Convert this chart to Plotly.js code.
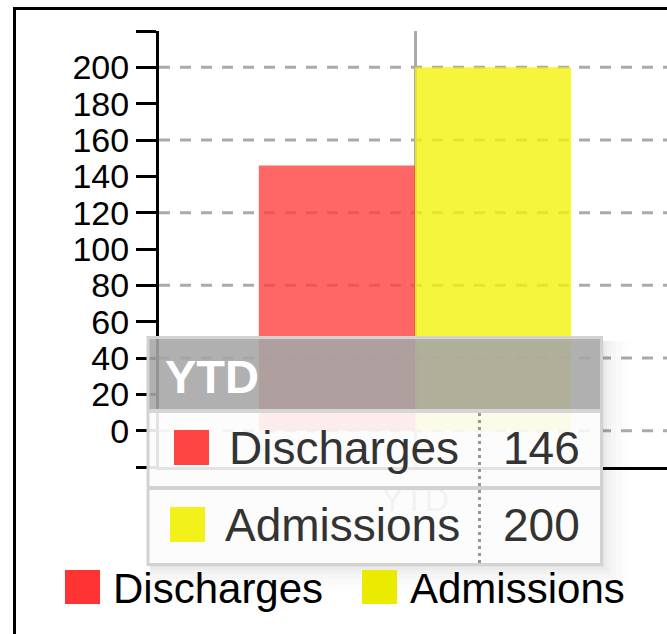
<!DOCTYPE html>
<html>
<head>
<meta charset="utf-8">
<script src="https://cdn.plot.ly/plotly-3.0.1.min.js"></script>
<style>
  html, body { margin: 0; padding: 0; background: #fff; overflow: hidden; }
  #chart { width: 667px; height: 634px; }
</style>
</head>
<body>
<div id="chart"></div>
<script>
// ---- data ----
const categories = ['YTD'];
const seriesNames = ['Discharges', 'Admissions'];
const discharges = [146];
const admissions = [200];
const yTickValues = [-20, 0, 20, 40, 60, 80, 100, 120, 140, 160, 180, 200, 220];
const yTickLabels = ['', '0', '20', '40', '60', '80', '100', '120', '140', '160', '180', '200', ''];
const gridValues = [0, 40, 80, 120, 160, 200];

// ---- styles ----
const FONT = 'Liberation Sans, Arial, sans-serif';
const barColors = ['rgb(255,64,64)', 'rgb(242,242,11)'];
const legendColors = ['rgb(255,51,51)', 'rgb(235,235,0)'];
const tipColors = ['rgb(255,68,68)', 'rgb(242,242,26)'];

const W = 667, H = 634;
const M = { l: 159, r: 0, t: 31, b: 167 };
const PW = W - M.l - M.r, PH = H - M.t - M.b;
const X = px => (px - M.l) / PW;
const Y = py => 1 - (py - M.t) / PH;

const traces = [
  { type: 'bar', name: seriesNames[0], x: categories, y: discharges,
    marker: { color: barColors[0], line: { width: 0 } }, opacity: 0.8, hoverinfo: 'none' },
  { type: 'bar', name: seriesNames[1], x: categories, y: admissions,
    marker: { color: barColors[1], line: { width: 0 } }, opacity: 0.8, hoverinfo: 'none' }
];

const shapes = [];
// dashed horizontal grid
gridValues.forEach(v => shapes.push({
  type: 'line', xref: 'paper', yref: 'y', x0: 0, x1: 1, y0: v, y1: v,
  line: { color: '#aaaaaa', width: 3, dash: '11px,10px' }, layer: 'below'
}));
// outer frame (top + left)
shapes.push({ type: 'line', xref: 'paper', yref: 'paper', x0: X(14.5), x1: X(700), y0: Y(8.5), y1: Y(8.5),
  line: { color: '#000', width: 3 }, layer: 'above' });
shapes.push({ type: 'line', xref: 'paper', yref: 'paper', x0: X(14.5), x1: X(14.5), y0: Y(7), y1: Y(700),
  line: { color: '#000', width: 3 }, layer: 'above' });

// tooltip shadow (soft)
[[2, 0.035], [5, 0.025], [9, 0.02], [14, 0.015], [20, 0.01], [27, 0.008]].forEach(([d, a]) => shapes.push({
  type: 'rect', xref: 'paper', yref: 'paper',
  x0: X(150), x1: X(602 + d), y0: Y(341), y1: Y(565 + d),
  fillcolor: 'rgba(0,0,0,' + a + ')', line: { width: 0 }, layer: 'above'
}));
// tooltip header
shapes.push({ type: 'rect', xref: 'paper', yref: 'paper', x0: X(149), x1: X(600), y0: Y(339), y1: Y(409),
  fillcolor: 'rgba(168,168,168,0.88)', line: { width: 0 }, layer: 'above' });
// tooltip body
shapes.push({ type: 'rect', xref: 'paper', yref: 'paper', x0: X(149), x1: X(600), y0: Y(409), y1: Y(563),
  fillcolor: 'rgba(255,255,255,0.89)', line: { width: 0 }, layer: 'above' });
// separators
shapes.push({ type: 'line', xref: 'paper', yref: 'paper', x0: X(149), x1: X(600), y0: Y(411), y1: Y(411),
  line: { color: 'rgb(214,214,214)', width: 4 }, layer: 'above' });
shapes.push({ type: 'line', xref: 'paper', yref: 'paper', x0: X(149), x1: X(600), y0: Y(488), y1: Y(488),
  line: { color: 'rgb(210,210,210)', width: 4 }, layer: 'above' });
shapes.push({ type: 'line', xref: 'paper', yref: 'paper', x0: X(479.5), x1: X(479.5), y0: Y(413), y1: Y(563),
  line: { color: 'rgb(150,150,150)', width: 3, dash: '3px,4px' }, layer: 'above' });
// tooltip border
shapes.push({ type: 'rect', xref: 'paper', yref: 'paper', x0: X(148), x1: X(601.5), y0: Y(337.5), y1: Y(564.5),
  fillcolor: 'rgba(0,0,0,0)', line: { color: 'rgb(210,210,210)', width: 3 }, layer: 'above' });
// tooltip swatches
shapes.push({ type: 'rect', xref: 'paper', yref: 'paper', x0: X(174), x1: X(209), y0: Y(430), y1: Y(465),
  fillcolor: tipColors[0], line: { width: 0 }, layer: 'above' });
shapes.push({ type: 'rect', xref: 'paper', yref: 'paper', x0: X(170), x1: X(205), y0: Y(507), y1: Y(542),
  fillcolor: tipColors[1], line: { width: 0 }, layer: 'above' });
// legend swatches
shapes.push({ type: 'rect', xref: 'paper', yref: 'paper', x0: X(65), x1: X(100), y0: Y(570), y1: Y(604),
  fillcolor: legendColors[0], line: { width: 0 }, layer: 'above' });
shapes.push({ type: 'rect', xref: 'paper', yref: 'paper', x0: X(362), x1: X(397), y0: Y(570), y1: Y(604),
  fillcolor: legendColors[1], line: { width: 0 }, layer: 'above' });

const ann = (text, px, py, xanchor, font) => ({
  text, xref: 'paper', yref: 'paper', x: X(px), y: Y(py), xanchor, yanchor: 'middle',
  showarrow: false, font
});
const tipFont = { family: FONT, size: 46, color: '#333' };
const annotations = [
  ann('<b>' + categories[0] + '</b>', 163, 376, 'left', { family: FONT, size: 47, color: '#fff' }),
  ann(seriesNames[0], 227, 448, 'left', tipFont),
  ann(String(discharges[0]), 582, 448, 'right', tipFont),
  ann(seriesNames[1], 223, 525, 'left', tipFont),
  ann(String(admissions[0]), 582, 525, 'right', tipFont),
  ann(seriesNames[0], 111, 588, 'left', { family: FONT, size: 42, color: '#000' }),
  ann(seriesNames[1], 408, 588, 'left', { family: FONT, size: 42, color: '#000' })
];

const layout = {
  width: W, height: H,
  margin: { l: M.l, r: M.r, t: M.t, b: M.b, pad: 0 },
  paper_bgcolor: '#fff', plot_bgcolor: 'rgba(0,0,0,0)',
  showlegend: false,
  barmode: 'group', bargap: 0.39, bargroupgap: 0,
  font: { family: FONT, color: '#000' },
  xaxis: {
    type: 'category', range: [-0.5, -0.5 + PW / 512],
    showline: true, linecolor: '#000', linewidth: 3,
    showgrid: true, gridcolor: '#aaaaaa', gridwidth: 3,
    ticks: '', tickfont: { family: FONT, size: 34, color: '#999' },
    zeroline: false, fixedrange: true
  },
  yaxis: {
    range: [-20, 220], tickmode: 'array', tickvals: yTickValues, ticktext: yTickLabels,
    showline: true, linecolor: '#000', linewidth: 3,
    ticks: 'outside', ticklen: 20, tickwidth: 3, tickcolor: '#000',
    tickfont: { family: FONT, size: 34, color: '#000' },
    showgrid: false, zeroline: false, fixedrange: true
  },
  shapes, annotations
};

Plotly.newPlot('chart', traces, layout, { staticPlot: true, displayModeBar: false });
</script>
</body>
</html>
